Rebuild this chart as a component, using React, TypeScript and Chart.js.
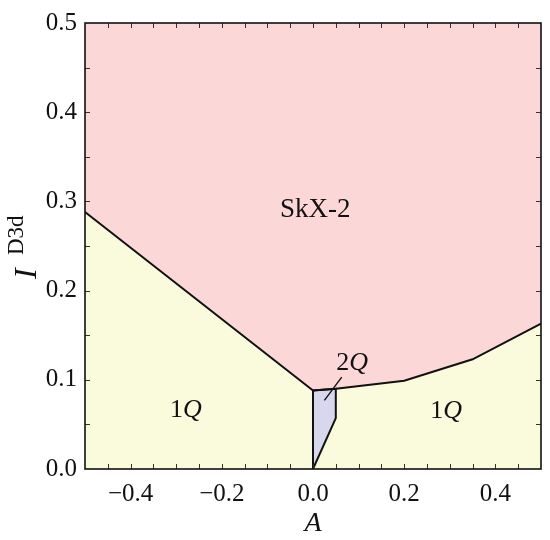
import React, { useEffect, useRef } from "react";
import { Chart, registerables } from "chart.js";

Chart.register(...registerables);

// Phase boundary between SkX-2 (above) and 1Q (below)
const boundaryA = [-0.5, 0, 0.05, 0.2, 0.35, 0.5];
const boundaryI = [0.288, 0.088, 0.09, 0.099, 0.123, 0.163];

// 2Q pocket polygon
const twoQA = [0, 0, 0.05, 0.05, 0];
const twoQI = [0, 0.088, 0.09, 0.057, 0];

// Axis tick labels and minor tick marks
const xTickValues = [-0.4, -0.2, 0, 0.2, 0.4];
const yTickValues = [0, 0.1, 0.2, 0.3, 0.4, 0.5];
const xMarkValues = [-0.45, -0.4, -0.35, -0.3, -0.25, -0.2, -0.15, -0.1, -0.05, 0, 0.05, 0.1, 0.15, 0.2, 0.25, 0.3, 0.35, 0.4, 0.45];
const yMarkValues = [0.05, 0.1, 0.15, 0.2, 0.25, 0.3, 0.35, 0.4, 0.45];

// Phase labels (data coordinates)
const phaseNames = ["SkX-2", "1Q", "1Q", "2Q"];
const phaseLabelA = [0.005, -0.279, 0.292, 0.086];
const phaseLabelI = [0.29, 0.066, 0.065, 0.119];

// Leader line for 2Q label
const leaderA = [0.063, 0.025];
const leaderI = [0.103, 0.077];

const PINK = "#fcd7d8";
const YELLOW = "#fafadc";
const LAVENDER = "#d7d8ee";
const INK = "#111111";
const SERIF = "'Liberation Serif', 'Times New Roman', Times, serif";

const pts = (xs: number[], ys: number[]) => xs.map((x, i) => ({ x, y: ys[i] }));

const fmt = (v: number) => (v < 0 ? "\u2212" + Math.abs(v).toFixed(1) : v.toFixed(1));

const overlay = {
  id: "overlay",
  afterDraw(chart: any) {
    const { ctx, chartArea, scales } = chart;
    const xs = scales.x;
    const ys = scales.y;
    const { left, right, top, bottom } = chartArea;
    ctx.save();

    // tick marks (inward, all sides)
    ctx.strokeStyle = "#333";
    ctx.lineWidth = 1;
    const tl = 5;
    ctx.beginPath();
    xMarkValues.forEach((v) => {
      const px = Math.round(xs.getPixelForValue(v)) + 0.5;
      ctx.moveTo(px, bottom);
      ctx.lineTo(px, bottom - tl);
      ctx.moveTo(px, top);
      ctx.lineTo(px, top + tl);
    });
    yMarkValues.forEach((v) => {
      const py = Math.round(ys.getPixelForValue(v)) + 0.5;
      ctx.moveTo(left, py);
      ctx.lineTo(left + tl, py);
      ctx.moveTo(right, py);
      ctx.lineTo(right - tl, py);
    });
    ctx.stroke();

    // leader line
    ctx.strokeStyle = INK;
    ctx.lineWidth = 1.4;
    ctx.beginPath();
    ctx.moveTo(xs.getPixelForValue(leaderA[0]), ys.getPixelForValue(leaderI[0]));
    ctx.lineTo(xs.getPixelForValue(leaderA[1]), ys.getPixelForValue(leaderI[1]));
    ctx.stroke();

    // frame
    ctx.strokeStyle = INK;
    ctx.lineWidth = 1.6;
    ctx.strokeRect(left, top, right - left, bottom - top);

    // phase labels
    ctx.fillStyle = INK;
    ctx.textBaseline = "middle";
    ctx.textAlign = "left";
    phaseNames.forEach((name, i) => {
      const cx = xs.getPixelForValue(phaseLabelA[i]);
      const cy = ys.getPixelForValue(phaseLabelI[i]);
      let parts: { t: string; f: string }[];
      if (/^\dQ$/.test(name)) {
        parts = [
          { t: name[0], f: `26px ${SERIF}` },
          { t: "Q", f: `italic 26px ${SERIF}` },
        ];
      } else {
        parts = [{ t: name, f: `27px ${SERIF}` }];
      }
      let w = 0;
      parts.forEach((p) => {
        ctx.font = p.f;
        w += ctx.measureText(p.t).width;
      });
      let x = cx - w / 2;
      parts.forEach((p) => {
        ctx.font = p.f;
        ctx.fillText(p.t, x, cy);
        x += ctx.measureText(p.t).width;
      });
    });

    // x-axis title
    ctx.textAlign = "center";
    ctx.textBaseline = "alphabetic";
    ctx.font = `italic 28px ${SERIF}`;
    ctx.fillText("A", (left + right) / 2, 531);

    // y-axis title: I^{D3d}
    ctx.save();
    ctx.translate(36, 279);
    ctx.rotate(-Math.PI / 2);
    ctx.textAlign = "left";
    ctx.font = `italic 32px ${SERIF}`;
    ctx.fillText("I", 0, 0);
    ctx.font = `23px ${SERIF}`;
    ctx.fillText("D3d", 24, -13);
    ctx.restore();

    ctx.restore();
  },
};

export default function App() {
  const ref = useRef<HTMLCanvasElement | null>(null);

  useEffect(() => {
    let chart: Chart | null = null;
    let cancelled = false;
    const build = () => {
      if (cancelled || !ref.current) return;
      const boundary = pts(boundaryA, boundaryI);
      chart = new Chart(ref.current, {
        type: "line",
        data: {
          datasets: [
            {
              label: "boundary",
              data: boundary,
              borderColor: INK,
              borderWidth: 2,
              pointRadius: 0,
              fill: false,
              order: 0,
            },
            {
              label: "2Q",
              data: pts(twoQA, twoQI),
              borderColor: INK,
              borderWidth: 2,
              backgroundColor: LAVENDER,
              pointRadius: 0,
              fill: "shape",
              order: 1,
            },
            {
              label: "SkX-2",
              data: boundary,
              borderWidth: 0,
              borderColor: "rgba(0,0,0,0)",
              backgroundColor: PINK,
              pointRadius: 0,
              fill: "end",
              order: 3,
            },
            {
              label: "1Q",
              data: boundary,
              borderWidth: 0,
              borderColor: "rgba(0,0,0,0)",
              backgroundColor: YELLOW,
              pointRadius: 0,
              fill: "origin",
              order: 4,
            },
          ],
        },
        options: {
          animation: false,
          responsive: true,
          maintainAspectRatio: false,
          layout: { padding: { top: 14, right: 9, left: 0, bottom: 0 } },
          plugins: {
            legend: { display: false },
            tooltip: { enabled: false },
          },
          scales: {
            x: {
              type: "linear",
              min: -0.5,
              max: 0.5,
              grid: { display: false, drawTicks: false },
              border: { display: false },
              afterBuildTicks: (s: any) => {
                s.ticks = xTickValues.map((v) => ({ value: v }));
              },
              afterFit: (s: any) => {
                s.height = 71;
              },
              ticks: {
                padding: 10,
                color: INK,
                font: { family: SERIF, size: 25 },
                maxRotation: 0,
                callback: (v: any) => fmt(Number(v)),
              },
            },
            y: {
              type: "linear",
              min: 0,
              max: 0.5,
              grid: { display: false, drawTicks: false },
              border: { display: false },
              afterBuildTicks: (s: any) => {
                s.ticks = yTickValues.map((v) => ({ value: v }));
              },
              afterFit: (s: any) => {
                s.width = 85;
              },
              ticks: {
                padding: 8,
                color: INK,
                font: { family: SERIF, size: 25 },
                callback: (v: any) => fmt(Number(v)),
              },
            },
          },
        },
        plugins: [overlay],
      });
    };
    const fontsApi: any = (document as any).fonts;
    if (fontsApi && fontsApi.load) {
      Promise.all([
        fontsApi.load(`25px 'Liberation Serif'`),
        fontsApi.load(`italic 25px 'Liberation Serif'`),
      ])
        .catch(() => null)
        .then(build);
    } else {
      build();
    }
    return () => {
      cancelled = true;
      if (chart) chart.destroy();
    };
  }, []);

  return (
    <div style={{ position: "absolute", left: 0, top: 0, width: 550, height: 540, background: "#fff" }}>
      <canvas ref={ref} />
    </div>
  );
}
